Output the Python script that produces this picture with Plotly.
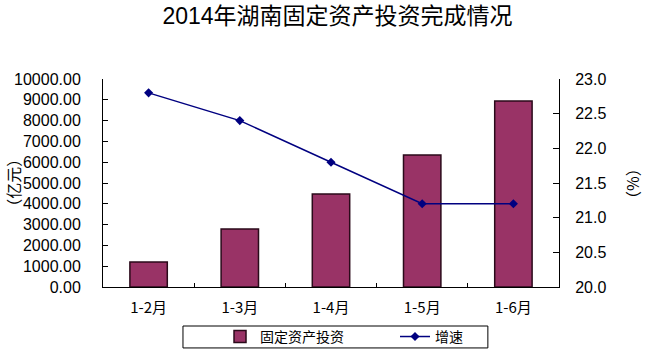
import plotly.graph_objects as go

categories = ["1-2月", "1-3月", "1-4月", "1-5月", "1-6月"]
investment = [1200, 2790, 4470, 6350, 8940]
growth = [22.8, 22.4, 21.8, 21.2, 21.2]
left_ticks = [0, 1000, 2000, 3000, 4000, 5000, 6000, 7000, 8000, 9000, 10000]
right_ticks = [20.0, 20.5, 21.0, 21.5, 22.0, 22.5, 23.0]

fig = go.Figure()
fig.add_trace(go.Bar(
    x=categories, y=investment, name="固定资产投资",
    marker=dict(color="#993366", line=dict(color="#2a0a1a", width=1.5)),
    width=0.41, yaxis="y",
))
fig.add_trace(go.Scatter(
    x=categories, y=growth, name="增速", mode="lines+markers",
    line=dict(color="#000080", width=1.5),
    marker=dict(symbol="diamond", size=7, color="#000080"),
    yaxis="y2",
))

axis_font = dict(family="Liberation Sans, Arial", size=16, color="#000")
fig.update_layout(
    width=649, height=353,
    margin=dict(l=103, r=90, t=79, b=66, autoexpand=False),
    paper_bgcolor="white", plot_bgcolor="white",
    title=dict(text="2014年湖南固定资产投资完成情况", x=0.52, xanchor="center",
               y=0.955, yanchor="middle",
               font=dict(family="Liberation Sans, Noto Sans CJK SC", size=23, color="#000")),
    xaxis=dict(type="category", showline=True, linecolor="#000", linewidth=1,
               ticks="inside", tickson="boundaries", ticklen=4, tickcolor="#000",
               tickfont=dict(family="Noto Sans CJK SC", size=15, color="#000"),
               ticklabelstandoff=7,
               showgrid=False, zeroline=False),
    yaxis=dict(range=[0, 10000], tickvals=left_ticks,
               ticktext=[f"{v:.2f}" for v in left_ticks],
               showline=True, linecolor="#000", linewidth=1,
               ticks="inside", ticklen=5, tickcolor="#000",
               tickfont=axis_font, ticklabelstandoff=18,
               showgrid=False, zeroline=False),
    yaxis2=dict(range=[20, 23], tickvals=right_ticks,
                ticktext=[f"{v:.1f}" for v in right_ticks],
                overlaying="y", side="right",
                showline=True, linecolor="#000", linewidth=1,
                ticks="inside", ticklen=6, tickcolor="#000",
                tickfont=axis_font, ticklabelstandoff=12,
                showgrid=False, zeroline=False),
    legend=dict(orientation="h", x=0.2566, xanchor="left", y=-0.24, yanchor="middle",
                borderwidth=0, bgcolor="rgba(0,0,0,0)",
                font=dict(family="Noto Sans CJK SC", size=14, color="#000"),
                entrywidth=130, entrywidthmode="pixels"),
    bargap=0.59,
    showlegend=True,
)
fig.add_shape(type="rect", xref="paper", yref="paper",
              x0=0.1754, x1=0.844, y0=-0.293, y1=-0.1875,
              line=dict(color="#000", width=1), fillcolor="rgba(0,0,0,0)")
fig.add_annotation(text="（亿元）", xref="paper", yref="paper", x=-0.198, y=0.5,
                   xanchor="center", yanchor="middle",
                   textangle=-90, showarrow=False,
                   font=dict(family="Noto Sans CJK SC", size=16, color="#000"))
fig.add_annotation(text="（%）", xref="paper", yref="paper", x=1.16, y=0.5,
                   xanchor="center", yanchor="middle",
                   textangle=-90, showarrow=False,
                   font=dict(family="Noto Sans CJK SC", size=16, color="#000"))

fig.write_html("out.html")
